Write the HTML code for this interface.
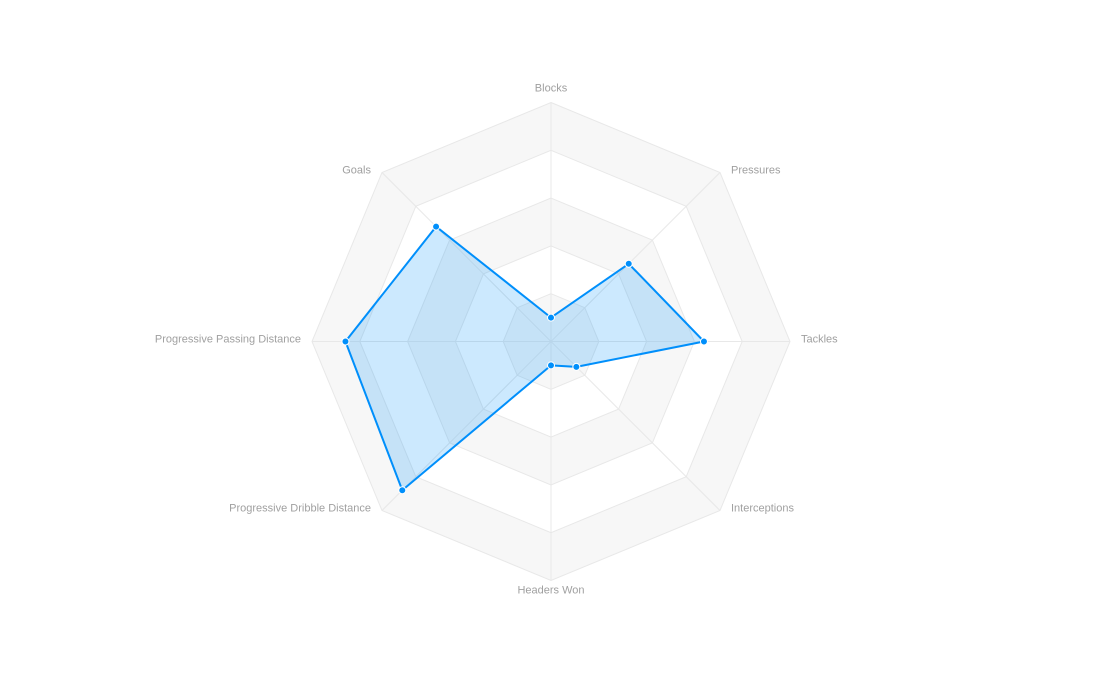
<!DOCTYPE html>
<html><head><meta charset="utf-8"><style>
html,body{margin:0;padding:0;background:#fff;width:1100px;height:683px;overflow:hidden}
text{font-family:"Liberation Sans",sans-serif;font-size:11px;fill:#a0a0a0}
</style></head><body>
<svg id="chart" width="1100" height="683" xmlns="http://www.w3.org/2000/svg"></svg>
<script>
const categories=["Blocks","Pressures","Tackles","Interceptions","Headers Won","Progressive Dribble Distance","Progressive Passing Distance","Goals"];
const seriesValues=[10,46,64,15,10,88,86,68];
const maxValue=100;
const ringCount=5;
const cx=551,cy=341.5,R=239,NS="http://www.w3.org/2000/svg";
const svg=document.getElementById('chart');
function ang(i){return -Math.PI/2+i*2*Math.PI/categories.length;}
function pt(i,v){const r=v/maxValue*R;return [cx+r*Math.cos(ang(i)),cy+r*Math.sin(ang(i))];}
function mk(t,a){const e=document.createElementNS(NS,t);for(const k in a)e.setAttribute(k,a[k]);svg.appendChild(e);return e;}
for(let k=ringCount;k>=1;k--){
  const v=maxValue*k/ringCount;
  const p=categories.map((c,i)=>pt(i,v).join(',')).join(' ');
  const e=mk('polygon',{points:p,fill:(k%2===1)?'#f7f7f7':'#ffffff',stroke:'#e8e8e8','stroke-width':1});
  
  
}
categories.forEach((c,i)=>{
  const [x,y]=pt(i,maxValue);
  const l=mk('line',{x1:cx,y1:cy,x2:x,y2:y,stroke:'#e8e8e8','stroke-width':1});
  
  
  const cs=Math.cos(ang(i)),sn=Math.sin(ang(i));
  let lx,ly;
  if(Math.abs(cs)<0.1){lx=cx;ly=cy+sn*251+1;}
  else if(Math.abs(sn)<0.1){lx=cx+cs*250;ly=cy+1;}
  else{lx=cx+Math.sign(cs)*180;ly=cy+Math.sign(sn)*169+1;}
  const anchor=Math.abs(cs)<0.1?'middle':(cs>0?'start':'end');
  const t=mk('text',{x:lx,y:ly,'text-anchor':anchor});
  t.textContent=c;
  
  
});
const pts=seriesValues.map((v,i)=>pt(i,v));
const poly=mk('polygon',{points:pts.map(p=>p.join(',')).join(' '),fill:'rgba(0,143,251,0.2)',stroke:'#008ffb','stroke-width':2,'stroke-linejoin':'round'});


pts.forEach(p=>{
  const c=mk('circle',{cx:p[0],cy:p[1],r:3.5,fill:'#008ffb',stroke:'#fff','stroke-width':1});
  
  
});
</script>
</body></html>
